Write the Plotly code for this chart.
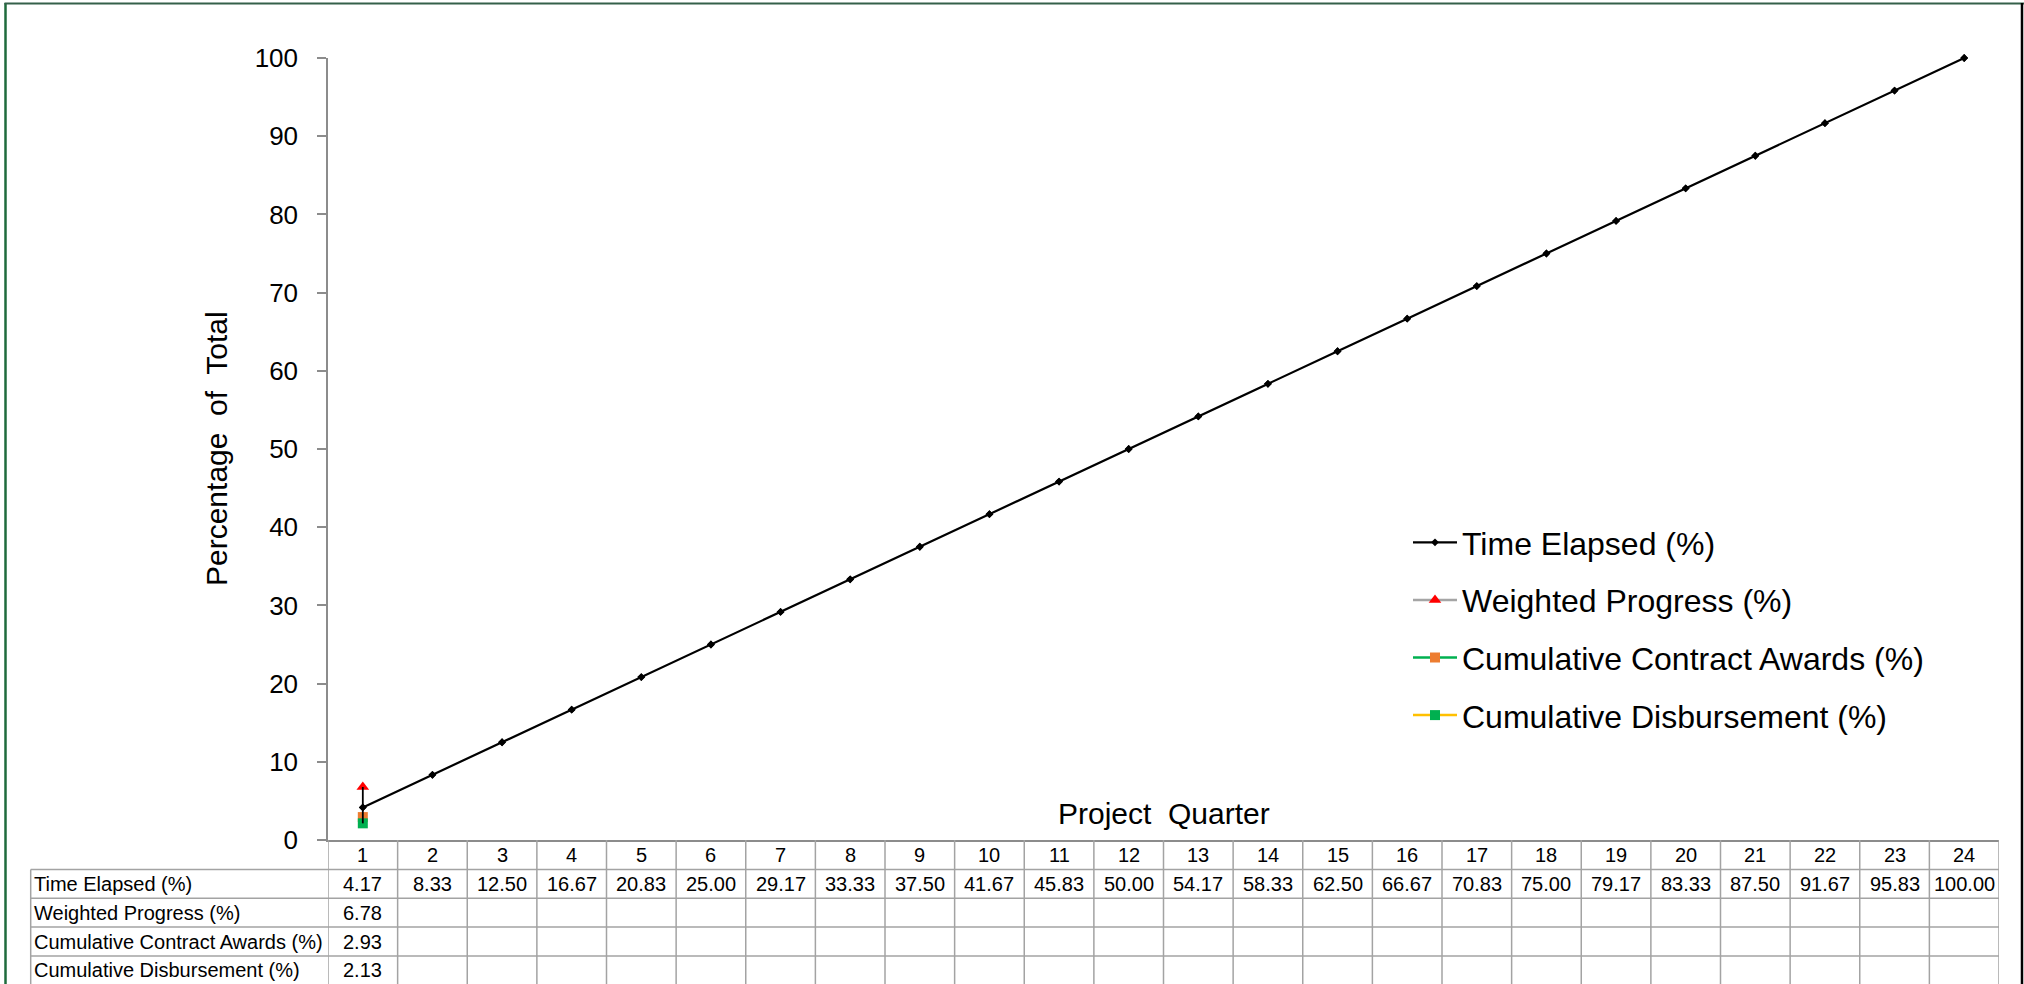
import plotly.graph_objects as go

# ---- data -------------------------------------------------------------
quarters = list(range(1, 25))
time_elapsed = [4.17, 8.33, 12.50, 16.67, 20.83, 25.00, 29.17, 33.33, 37.50, 41.67,
                45.83, 50.00, 54.17, 58.33, 62.50, 66.67, 70.83, 75.00, 79.17, 83.33,
                87.50, 91.67, 95.83, 100.00]
weighted_progress = [6.78] + [None] * 23
contract_awards = [2.93] + [None] * 23
disbursement = [2.13] + [None] * 23

row_names = ["Time Elapsed (%)", "Weighted Progress (%)",
             "Cumulative Contract Awards (%)", "Cumulative Disbursement (%)"]
row_values = [time_elapsed, weighted_progress, contract_awards, disbursement]

# ---- geometry (pixels) ------------------------------------------------
W, H = 2024, 984
M_L, M_R, M_T, M_B = 328, 25, 58, 144
PLOT_W = W - M_L - M_R
PLOT_H = H - M_T - M_B
AXIS_Y = H - M_B
HEADER_H = 29.5
ROW_H = 28.8
LABEL_LEFT = 30.7

FONT = "Liberation Sans, Arial, sans-serif"
GRID = "#a3a3a3"
AXIS = "#8c8c8c"
TABLE_FONT = dict(family=FONT, size=20, color="black")


def px_y(p):
    """pixel row -> paper y"""
    return (AXIS_Y - p) / PLOT_H


def px_x(p):
    """pixel column -> paper x"""
    return (p - M_L) / PLOT_W


fig = go.Figure()

series = [
    ("Weighted Progress (%)", weighted_progress, "#a5a5a5", "triangle-up", "#ff0000", 11),
    ("Cumulative Contract Awards (%)", contract_awards, "#00b050", "square", "#ed7d31", 10),
    ("Cumulative Disbursement (%)", disbursement, "#ffc000", "square", "#00b050", 10),
]

# Time elapsed line
fig.add_trace(go.Scatter(
    x=quarters, y=time_elapsed, mode="lines+markers", name="Time Elapsed (%)",
    line=dict(color="black", width=2.2),
    marker=dict(symbol="diamond", size=6, color="black"),
    legendgroup="a", cliponaxis=False,
))
for i, (name, vals, lc, sym, mc, ms) in enumerate(series):
    fig.add_trace(go.Scatter(
        x=quarters, y=vals, mode="lines+markers", name=name,
        line=dict(color=lc, width=2.5),
        marker=dict(symbol=sym, size=ms, color=mc),
        legendgroup="bcd"[i], cliponaxis=False,
    ))

# High-low line joining the series values in each quarter
hl_x, hl_y = [], []
for qi, q in enumerate(quarters):
    vals = [v[qi] for v in row_values if v[qi] is not None]
    if len(vals) > 1:
        hl_x += [q, q, None]
        hl_y += [min(vals), max(vals), None]
fig.add_trace(go.Scatter(x=hl_x, y=hl_y, mode="lines", showlegend=False,
                         line=dict(color="black", width=1.8), hoverinfo="skip"))

# Re-draw time elapsed markers on top
fig.add_trace(go.Scatter(
    x=quarters, y=time_elapsed, mode="markers", showlegend=False,
    marker=dict(symbol="diamond", size=6, color="black"), cliponaxis=False,
    hoverinfo="skip",
))

# ---- data table under the axis ---------------------------------------
shapes = []
annotations = []
n_rows = len(row_names)
row_tops = [AXIS_Y + HEADER_H + ROW_H * r for r in range(n_rows + 1)]
table_bottom = row_tops[-1]

# horizontal rules
for yt in row_tops:
    shapes.append(dict(type="line", xref="paper", yref="paper",
                       x0=px_x(LABEL_LEFT), x1=1, y0=px_y(yt), y1=px_y(yt),
                       line=dict(color=GRID, width=1.5)))
# vertical rules at category boundaries
for k in range(len(quarters) + 1):
    shapes.append(dict(type="line", xref="x", yref="paper",
                       x0=k + 0.5, x1=k + 0.5, y0=0, y1=px_y(table_bottom),
                       line=dict(color=GRID, width=1.5)))
# label column left edge
shapes.append(dict(type="line", xref="paper", yref="paper",
                   x0=px_x(LABEL_LEFT), x1=px_x(LABEL_LEFT),
                   y0=px_y(row_tops[0]), y1=px_y(table_bottom),
                   line=dict(color=GRID, width=1.5)))

# header: quarter numbers
for q in quarters:
    annotations.append(dict(x=q, y=px_y(AXIS_Y + HEADER_H / 2), xref="x", yref="paper",
                            text=str(q), showarrow=False,
                            xanchor="center", yanchor="middle", font=TABLE_FONT))
# rows
for r, (name, vals) in enumerate(zip(row_names, row_values)):
    yc = px_y(row_tops[r] + ROW_H / 2)
    annotations.append(dict(x=px_x(LABEL_LEFT + 1), y=yc, xref="paper", yref="paper",
                            text=name, showarrow=False, xanchor="left", yanchor="middle",
                            font=TABLE_FONT))
    for q, v in zip(quarters, vals):
        if v is None:
            continue
        annotations.append(dict(x=q, y=yc, xref="x", yref="paper",
                                text=f"{v:.2f}", showarrow=False,
                                xanchor="center", yanchor="middle", font=TABLE_FONT))

# axis titles
annotations.append(dict(x=px_x(216), y=0.5, xref="paper", yref="paper",
                        text="Percentage  of  Total", textangle=-90, showarrow=False,
                        xanchor="center", yanchor="middle",
                        font=dict(family=FONT, size=30, color="black")))
annotations.append(dict(x=0.5, y=px_y(813), xref="paper", yref="paper",
                        text="Project  Quarter", showarrow=False,
                        xanchor="center", yanchor="middle",
                        font=dict(family=FONT, size=30, color="black")))

# outer frame
shapes.append(dict(type="line", xref="paper", yref="paper",
                   x0=px_x(5.5), x1=px_x(5.5), y0=px_y(3), y1=px_y(H + 2),
                   line=dict(color="#1f6b3c", width=2.5)))
shapes.append(dict(type="line", xref="paper", yref="paper",
                   x0=px_x(4.5), x1=px_x(W), y0=px_y(3.5), y1=px_y(3.5),
                   line=dict(color="#35604a", width=2)))
shapes.append(dict(type="line", xref="paper", yref="paper",
                   x0=px_x(2022), x1=px_x(2022), y0=px_y(3), y1=px_y(H + 2),
                   line=dict(color="black", width=2.5)))

fig.update_layout(
    width=W, height=H,
    margin=dict(l=M_L, r=M_R, t=M_T, b=M_B),
    paper_bgcolor="white", plot_bgcolor="white",
    font=dict(family=FONT, color="black"),
    showlegend=True,
    legend=dict(x=px_x(1408), y=px_y(515), xanchor="left", yanchor="top",
                font=dict(family=FONT, size=32, color="black"),
                bgcolor="rgba(0,0,0,0)", tracegroupgap=13, itemwidth=44),
    xaxis=dict(range=[0.5, 24.5], showticklabels=False, ticks="", showgrid=False,
               zeroline=False, showline=True, linecolor=AXIS, linewidth=1.5),
    yaxis=dict(range=[0, 100], tickvals=list(range(0, 101, 10)), ticks="outside",
               ticklen=9, tickcolor=AXIS, tickwidth=1.5, showgrid=False, zeroline=False,
               showline=True, linecolor=AXIS, linewidth=1.5,
               tickfont=dict(family=FONT, size=26, color="black"),
               ticklabelstandoff=14),
    shapes=shapes,
    annotations=annotations,
)

fig.write_html("out.html")
